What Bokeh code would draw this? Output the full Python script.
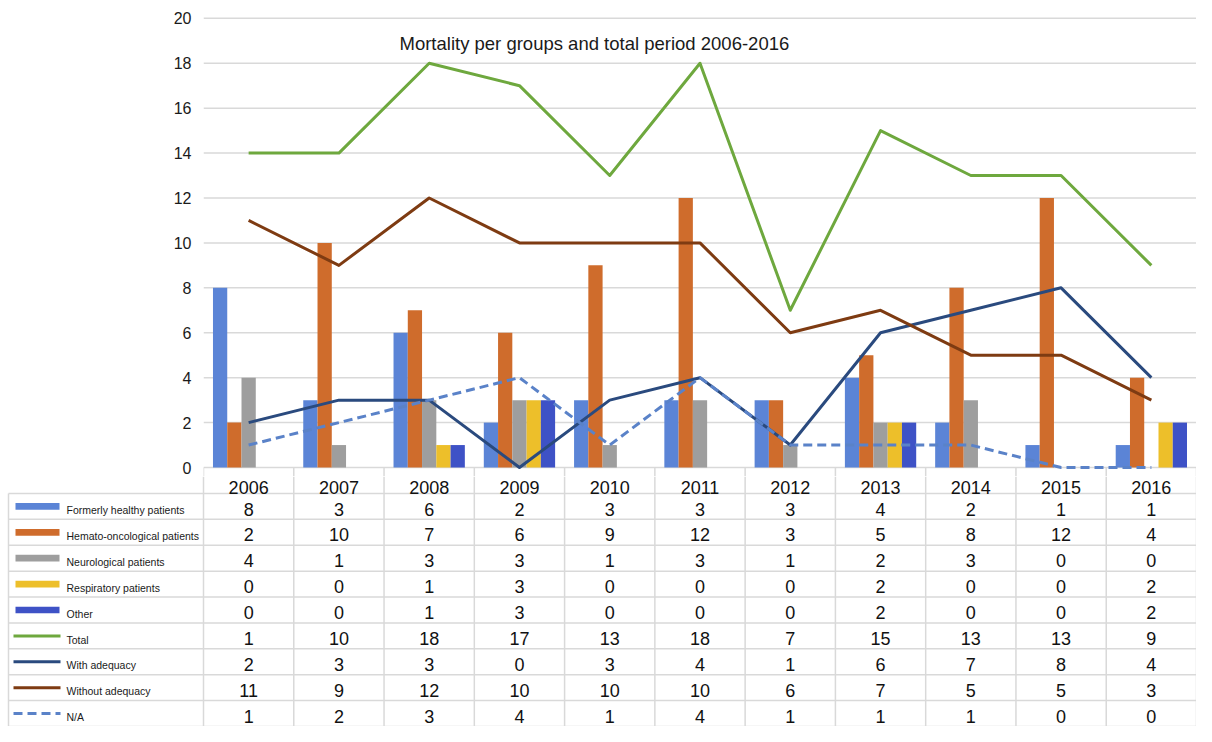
from bokeh.plotting import figure
from bokeh.models import Range1d, FixedTicker, Label
from bokeh.layouts import column
from bokeh.embed import file_html
from bokeh.resources import INLINE
from bokeh.core.properties import value

# ---------------- data ----------------
years = ["2006", "2007", "2008", "2009", "2010", "2011", "2012", "2013", "2014", "2015", "2016"]
formerly_healthy = [8, 3, 6, 2, 3, 3, 3, 4, 2, 1, 1]
hemato_oncological = [2, 10, 7, 6, 9, 12, 3, 5, 8, 12, 4]
neurological = [4, 1, 3, 3, 1, 3, 1, 2, 3, 0, 0]
respiratory = [0, 0, 1, 3, 0, 0, 0, 2, 0, 0, 2]
other = [0, 0, 1, 3, 0, 0, 0, 2, 0, 0, 2]
total = [14, 14, 18, 17, 13, 18, 7, 15, 13, 13, 9]
total_table_text = ["1", "10", "18", "17", "13", "18", "7", "15", "13", "13", "9"]
with_adequacy = [2, 3, 3, 0, 3, 4, 1, 6, 7, 8, 4]
without_adequacy = [11, 9, 12, 10, 10, 10, 6, 7, 5, 5, 3]
not_available = [1, 2, 3, 4, 1, 4, 1, 1, 1, 0, 0]
y_ticks = [0, 2, 4, 6, 8, 10, 12, 14, 16, 18, 20]
title_text = "Mortality per groups and total period 2006-2016"

bar_series = [
    ("Formerly healthy patients", formerly_healthy, "#5B84D6"),
    ("Hemato-oncological patients", hemato_oncological, "#CF6C2C"),
    ("Neurological patients", neurological, "#9E9E9E"),
    ("Respiratory patients", respiratory, "#EDBF2A"),
    ("Other", other, "#3E52C6"),
]
line_series = [
    ("Total", total, "#6EA83E", "solid"),
    ("With adequacy", with_adequacy, "#2A4A7E", "solid"),
    ("Without adequacy", without_adequacy, "#7E3B12", "solid"),
    ("N/A", not_available, "#5A82C8", "9 5"),
]

FONT = "Liberation Sans"
GRID = "#d9d9d9"
n = len(years)
xc = [i + 0.5 for i in range(n)]
W = 1196
LEFT = 203
unit = (W - LEFT) / n
bar_w = 0.158
Y_LO = -0.4
Y_HI = 20.08

# ---------------- chart ----------------
p = figure(width=W, height=476, x_range=Range1d(0, n), y_range=Range1d(Y_LO, Y_HI),
           output_backend="svg", toolbar_location=None, x_axis_location=None,
           min_border_left=LEFT, min_border_right=0, min_border_top=16, min_border_bottom=0)
p.frame_align = False
p.outline_line_color = None
p.xgrid.visible = False
p.ygrid.visible = False
p.yaxis.ticker = FixedTicker(ticks=y_ticks)
p.yaxis.axis_line_color = None
p.yaxis.major_tick_line_color = None
p.yaxis.minor_tick_line_color = None
p.yaxis.major_label_text_font = FONT
p.yaxis.major_label_text_font_size = "16px"
p.yaxis.major_label_text_color = "#1a1a1a"
p.yaxis.major_label_standoff = 6

# horizontal gridlines over the plot area only
p.segment(x0=[0] * len(y_ticks), y0=y_ticks, x1=[n] * len(y_ticks), y1=y_ticks,
          line_color=GRID, line_width=1.5)
# top part of the table's column borders
p.segment(x0=list(range(n + 1)), y0=[0] * (n + 1), x1=list(range(n + 1)),
          y1=[Y_LO] * (n + 1), line_color=GRID, line_width=1.5)

for j, (name, vals, col) in enumerate(bar_series):
    off = (j - (len(bar_series) - 1) / 2) * bar_w
    p.vbar(x=[x + off for x in xc], top=vals, bottom=0, width=bar_w,
           fill_color=col, line_color=None)

for name, vals, col, dash in line_series:
    p.line(xc, vals, line_color=col, line_width=3, line_dash=dash, line_join="round")

p.add_layout(Label(x=4.33, y=18.9, text=title_text, text_font=FONT, text_font_size="18.5px",
                   text_align="center", text_baseline="middle", text_color="#1a1a1a"))

# ---------------- data table ----------------
rows = [(name, [str(v) for v in vals], col, "bar", None) for name, vals, col in bar_series]
for name, vals, col, dash in line_series:
    texts = total_table_text if name == "Total" else [str(v) for v in vals]
    rows.append((name, texts, col, "line", dash))

nr = len(rows)
HDR = 0.656
x_start = -LEFT / unit
label_left = x_start + 8 / unit
t = figure(width=W, height=250, x_range=Range1d(x_start, n), y_range=Range1d(-(nr + HDR), 0),
           output_backend="svg", toolbar_location=None, x_axis_location=None,
           y_axis_location=None, min_border=0, min_border_left=0, min_border_right=0,
           min_border_top=0, min_border_bottom=0)
t.frame_align = False
t.outline_line_color = None
t.grid.visible = False

# vertical column borders
t.segment(x0=list(range(n + 1)), y0=[0] * (n + 1), x1=list(range(n + 1)),
          y1=[-(nr + HDR)] * (n + 1), line_color=GRID, line_width=1.5)
t.segment(x0=[label_left], y0=[-HDR], x1=[label_left], y1=[-(nr + HDR)],
          line_color=GRID, line_width=1.5)
# horizontal row borders
hy = [-HDR - k for k in range(nr + 1)]
t.segment(x0=[label_left] * len(hy), y0=hy, x1=[n] * len(hy), y1=hy,
          line_color=GRID, line_width=1.5)

# years header
t.text(x=xc, y=[-0.42] * n, text=years, text_font=value(FONT), text_font_size=value("18px"),
       text_align="center", text_baseline="middle", text_color="#111111")

sw_x0 = label_left + 7 / unit
sw_x1 = label_left + 51 / unit
txt_x = label_left + 58 / unit
for k, (name, texts, col, kind, dash) in enumerate(rows):
    yc = -HDR - k - 0.5
    if kind == "bar":
        t.quad(left=[sw_x0], right=[sw_x1], bottom=[yc - 0.13], top=[yc + 0.13],
               fill_color=col, line_color=None)
    else:
        t.line([sw_x0 - 2 / unit, sw_x1 + 1 / unit], [yc, yc], line_color=col, line_width=3,
               line_dash=dash)
    t.text(x=[txt_x], y=[yc - 0.14], text=[name], text_font=value(FONT),
           text_font_size=value("10.5px"), text_align="left", text_baseline="middle",
           text_color="#1a1a1a")
    t.text(x=xc, y=[yc - 0.1] * n, text=texts, text_font=value(FONT),
           text_font_size=value("18px"), text_align="center", text_baseline="middle",
           text_color="#111111")

layout = column(p, t, spacing=0)
open("out.html", "w").write(file_html(layout, INLINE))
